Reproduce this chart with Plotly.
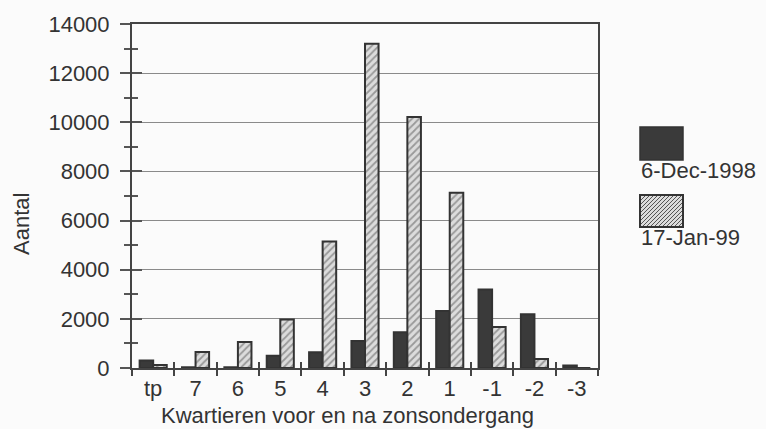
import plotly.graph_objects as go

FONT = "Liberation Sans, Arial, sans-serif"
FS = 22
INK = "#333333"
DARK_FILL = "#3a3a3a"
HATCH_BG = "#dcdcdc"

categories = ["tp", "7", "6", "5", "4", "3", "2", "1", "-1", "-2", "-3"]
dec_1998 = [310, 30, 30, 500, 640, 1100, 1460, 2320, 3190, 2190, 100]
jan_1999 = [120, 650, 1060, 1970, 5150, 13200, 10220, 7130, 1670, 370, 0]
series_names = ["6-Dec-1998", "17-Jan-99"]
y_ticks = [0, 2000, 4000, 6000, 8000, 10000, 12000, 14000]

# plot box in pixels (for legend placement)
L, R, T, B = 132, 598, 24, 368
W, H = 766, 429


def px(x, y):
    return (x - L) / (R - L), (B - y) / (B - T)


fig = go.Figure()
fig.add_trace(
    go.Bar(
        x=categories,
        y=dec_1998,
        name=series_names[0],
        marker=dict(color=DARK_FILL, line=dict(color=INK, width=2)),
    )
)
fig.add_trace(
    go.Bar(
        x=categories,
        y=jan_1999,
        name=series_names[1],
        marker=dict(
            color=HATCH_BG,
            line=dict(color=INK, width=2),
            pattern=dict(shape="/", fgcolor="#555555", bgcolor=HATCH_BG, size=5, solidity=0.35),
        ),
    )
)

# legend drawn by hand: big swatches with the label underneath
shapes = []
x0, y0 = px(640, 160)
x1, y1 = px(683, 127)
shapes.append(dict(type="rect", xref="paper", yref="paper", x0=x0, y0=y0, x1=x1, y1=y1,
                   fillcolor=DARK_FILL, line=dict(color=INK, width=1.5)))
x0, y0 = px(640, 227)
x1, y1 = px(683, 195)
shapes.append(dict(type="rect", xref="paper", yref="paper", x0=x0, y0=y0, x1=x1, y1=y1,
                   fillcolor=HATCH_BG, line=dict(color=INK, width=2)))
# hatch lines inside the second swatch
path = ""
left, right, top, bot = 641, 682, 196, 226
step = 4
k = left - (bot - top)
while k < right:
    xa, ya = k, bot
    xb, yb = k + (bot - top), top
    if xa < left:
        ya = bot - (left - xa)
        xa = left
    if xb > right:
        yb = top + (xb - right)
        xb = right
    pa = px(xa, ya)
    pb = px(xb, yb)
    path += f"M{pa[0]},{pa[1]} L{pb[0]},{pb[1]} "
    k += step
shapes.append(dict(type="path", xref="paper", yref="paper", path=path,
                   line=dict(color="#555555", width=1)))

annotations = [
    dict(text=series_names[0], xref="paper", yref="paper", x=px(639, 0)[0], y=px(0, 170)[1],
         xanchor="left", yanchor="middle", showarrow=False, font=dict(size=FS, color=INK, family=FONT)),
    dict(text=series_names[1], xref="paper", yref="paper", x=px(639, 0)[0], y=px(0, 237)[1],
         xanchor="left", yanchor="middle", showarrow=False, font=dict(size=FS, color=INK, family=FONT)),
    dict(text="Aantal", xref="paper", yref="paper", x=px(22, 0)[0], y=px(0, 224)[1],
         textangle=-90, xanchor="center", yanchor="middle", showarrow=False,
         font=dict(size=FS, color=INK, family=FONT)),
    dict(text="Kwartieren voor en na zonsondergang", xref="paper", yref="paper",
         x=px(347, 0)[0], y=px(0, 415)[1], xanchor="center", yanchor="middle", showarrow=False,
         font=dict(size=FS, color=INK, family=FONT)),
]

# second pair of axes only to give the ticks a crossing look
fig.add_trace(go.Scatter(x=[None], y=[None], xaxis="x2", yaxis="y2", showlegend=False, hoverinfo="skip"))

fig.update_layout(
    width=W,
    height=H,
    margin=dict(l=L, r=W - R, t=T, b=H - B),
    paper_bgcolor="#fbfbfb",
    plot_bgcolor="#fbfbfb",
    barmode="group",
    bargap=0.36,
    bargroupgap=0.0,
    showlegend=False,
    font=dict(family=FONT, size=FS, color=INK),
    shapes=shapes,
    annotations=annotations,
    xaxis=dict(
        type="category",
        categoryorder="array",
        categoryarray=categories,
        range=[-0.5, len(categories) - 0.5],
        showline=True,
        linecolor="#444444",
        linewidth=2,
        mirror=True,
        ticks="outside",
        tickson="boundaries",
        ticklen=6,
        tickwidth=1.5,
        tickcolor="#444444",
        showgrid=False,
        tickfont=dict(size=FS, color=INK),
    ),
    yaxis=dict(
        range=[0, 14000],
        tickvals=y_ticks,
        tickformat="d",
        showline=True,
        linecolor="#444444",
        linewidth=2,
        mirror=True,
        ticks="outside",
        ticklen=10,
        tickwidth=1.5,
        tickcolor="#555555",
        ticklabelstandoff=6,
        showgrid=True,
        gridcolor="#8a8a8a",
        gridwidth=1,
        zeroline=False,
        tickfont=dict(size=FS, color=INK),
        minor=dict(dtick=1000, ticks="outside", ticklen=6, tickcolor="#555555", tickwidth=1.5, showgrid=False),
    ),
    xaxis2=dict(
        overlaying="x",
        range=[-0.5, len(categories) - 0.5],
        tickvals=[i + 0.5 for i in range(len(categories) - 1)],
        ticks="inside",
        ticklen=6,
        tickwidth=1.5,
        tickcolor="#444444",
        showticklabels=False,
        showgrid=False,
        zeroline=False,
        anchor="y2",
        side="bottom",
    ),
    yaxis2=dict(
        overlaying="y",
        range=[0, 14000],
        tickvals=y_ticks,
        ticks="inside",
        ticklen=10,
        tickwidth=1.5,
        tickcolor="#555555",
        showticklabels=False,
        showgrid=False,
        zeroline=False,
        anchor="x2",
        side="left",
        minor=dict(dtick=1000, ticks="inside", ticklen=6, tickcolor="#555555", tickwidth=1.5),
    ),
)

fig.write_html(
    "out.html",
    config={"displayModeBar": False},
    post_script="document.body.style.margin='0';",
)
